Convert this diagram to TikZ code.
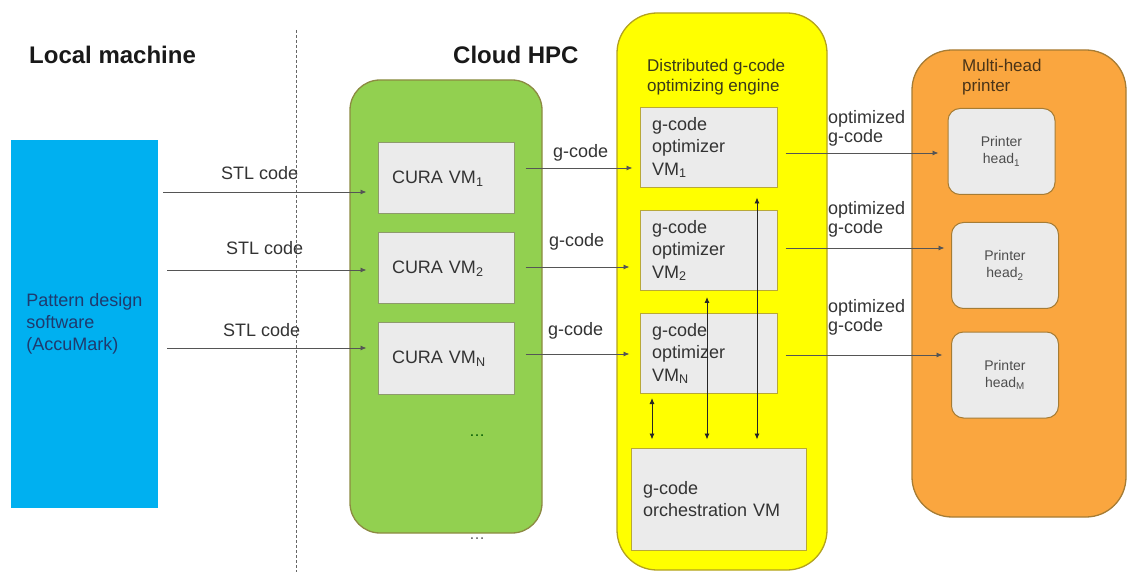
\documentclass[tikz,border=0pt]{standalone}
\usepackage{fontspec}
\setmainfont{Liberation Sans}
\usetikzlibrary{arrows.meta}

\definecolor{softblue}{HTML}{00B0F0}
\definecolor{navytext}{HTML}{1F3A6E}
\definecolor{cloudgreen}{HTML}{92D050}
\definecolor{cloudedge}{HTML}{8C8A42}
\definecolor{engineyellow}{HTML}{FFFF00}
\definecolor{engineedge}{HTML}{B3A21E}
\definecolor{printerorange}{HTML}{FAA63F}
\definecolor{printeredge}{HTML}{A67C34}
\definecolor{vmgray}{HTML}{EBEBEB}
\definecolor{curaedge}{HTML}{8E9A6C}
\definecolor{optedge}{HTML}{B8A838}
\definecolor{inktext}{HTML}{333333}
\definecolor{wire}{HTML}{555555}
\definecolor{headtext}{HTML}{4D4D4D}
\definecolor{printertitle}{HTML}{4A3418}
\definecolor{enginetitlecol}{HTML}{3A3A1A}

\begin{document}
\begin{tikzpicture}[x=1pt,y=-1pt,
  every node/.style={inner sep=0pt, text=inktext},
  txt/.style={font=\fontsize{18}{22.5}\selectfont},
  title/.style={font=\bfseries\fontsize{24}{28}\selectfont, text=black!90, anchor=west},
  lbl/.style={txt, anchor=west},
  twolbl/.style={font=\fontsize{18}{19}\selectfont, anchor=west, align=left},
  cloudgroup/.style={draw=cloudedge, fill=cloudgreen, line width=1.3pt, rounded corners=30pt},
  enginegroup/.style={draw=engineedge, fill=engineyellow, line width=1.3pt, rounded corners=40pt},
  printergroup/.style={draw=printeredge, fill=printerorange, line width=1.3pt, rounded corners=40pt},
  curabox/.style={draw=curaedge, fill=vmgray, line width=1pt, txt, align=left,
    text width=108pt, inner xsep=14pt, minimum height=71pt},
  optbox/.style={draw=optedge, fill=vmgray, line width=1pt, txt, align=left,
    text width=113pt, inner xsep=12pt, minimum height=80pt},
  headbox/.style={draw=printeredge, fill=vmgray, line width=1pt, rounded corners=12pt,
    minimum width=107pt, minimum height=86pt, align=center,
    font=\fontsize{14}{17}\selectfont, text=headtext},
  arr/.style={draw=wire, line width=0.9pt, -{Latex[length=6pt,width=5pt]}},
  biarr/.style={draw=black!85, line width=0.9pt,
    {Latex[length=6pt,width=5pt]}-{Latex[length=6pt,width=5pt]}},
  divider/.style={draw=black!60, line width=0.9pt, dash pattern=on 3pt off 2pt}
]
\useasboundingbox (0,0) rectangle (1128,572);

% section titles and the local / cloud divider
\node[title] (localtitle) at (29,55) {Local machine};
\node[title] (cloudtitle) at (453,55) {Cloud HPC};
\coordinate (divtop) at (296,30);
\coordinate (divbot) at (296,572);
\draw[divider] (divtop) -- (divbot);

% pattern design software on the local machine
\node[fill=softblue, minimum width=147pt, minimum height=368pt, align=left,
  font=\fontsize{18}{22}\selectfont, text=navytext] (soft) at (84.5,324)
  {Pattern design\\software\\(AccuMark)};

% group containers
\node[cloudgroup, minimum width=192pt, minimum height=453pt] (cloud) at (446,306.5) {};
\node[enginegroup, minimum width=210pt, minimum height=557pt] (engine) at (722,291.5) {};
\node[printergroup, minimum width=214pt, minimum height=467pt] (printer) at (1019,283.5) {};

% slicing VMs
\node[curabox] (cura1) at (446,178.5) {CURA VM\textsubscript{1}};
\node[curabox] (cura2) at (446,268.5) {CURA VM\textsubscript{2}};
\node[curabox] (curaN) at (446,358.5) {CURA VM\textsubscript{N}};
\node[font=\fontsize{16}{16}\selectfont, text=green!35!black] (dotsin) at (477,436) {\ldots};
\node[font=\fontsize{16}{16}\selectfont, text=black!65] (dotsout) at (477,539) {\ldots};

% optimizing engine
\node[font=\fontsize{17}{20}\selectfont, text=enginetitlecol, anchor=west, align=left]
  (enginetitle) at (647,77) {Distributed g-code\\optimizing engine};
\node[optbox] (opt1) at (708.5,147.5) {g-code\\optimizer\\VM\textsubscript{1}};
\node[optbox] (opt2) at (708.5,250.5) {g-code\\optimizer\\VM\textsubscript{2}};
\node[optbox] (optN) at (708.5,353.5) {g-code\\optimizer\\VM\textsubscript{N}};
\node[draw=optedge, fill=vmgray, line width=1pt, txt, align=left,
  text width=151pt, inner xsep=12pt, minimum height=102pt] (orch) at (718.5,499)
  {g-code\\orchestration VM};

% printer heads
\node[font=\fontsize{17}{20}\selectfont, text=printertitle, anchor=west, align=left]
  (printertitle) at (962,77) {Multi-head\\printer};
\node[headbox] (head1) at (1001.5,151.5) {Printer\\head\textsubscript{1}};
\node[headbox] (head2) at (1005,265.5) {Printer\\head\textsubscript{2}};
\node[headbox] (headM) at (1005,375) {Printer\\head\textsubscript{M}};

% STL code from the design software to the slicers
\coordinate (stl1) at ([shift={(-11,13.5)}]cura1.west);
\coordinate (stl2) at ([shift={(-11,1.5)}]cura2.west);
\coordinate (stl3) at ([shift={(-11,-10.5)}]curaN.west);
\draw[arr] (soft.east |- stl1) ++(5,0) -- (stl1);
\draw[arr] (soft.east |- stl2) ++(9,0) -- (stl2);
\draw[arr] (soft.east |- stl3) ++(9,0) -- (stl3);
\node[lbl] (stllbl1) at (221,173) {STL code};
\node[lbl] (stllbl2) at (226,248) {STL code};
\node[lbl] (stllbl3) at (223,330) {STL code};

% g-code from the slicers to the optimizers
\coordinate (g1) at ([shift={(-7,20.5)}]opt1.west);
\coordinate (g2) at ([shift={(-10,16.5)}]opt2.west);
\coordinate (g3) at ([shift={(-10,0.5)}]optN.west);
\draw[arr] (cura1.east |- g1) ++(11,0) -- (g1);
\draw[arr] (cura2.east |- g2) ++(11,0) -- (g2);
\draw[arr] (curaN.east |- g3) ++(11,0) -- (g3);
\node[lbl] (glbl1) at (553,153) {g-code};
\node[lbl] (glbl2) at (549,242) {g-code};
\node[lbl] (glbl3) at (548,331) {g-code};

% optimized g-code to the printer heads
\coordinate (o1) at ([shift={(-9,1.5)}]head1.west);
\coordinate (o2) at ([shift={(-6.5,-17.5)}]head2.west);
\coordinate (o3) at ([shift={(-8.5,-20)}]headM.west);
\draw[arr] (opt1.east |- o1) ++(8,0) -- (o1);
\draw[arr] (opt2.east |- o2) ++(8,0) -- (o2);
\draw[arr] (optN.east |- o3) ++(8,0) -- (o3);
\node[twolbl] (olbl1) at (828,128) {optimized\\g-code};
\node[twolbl] (olbl2) at (828,219) {optimized\\g-code};
\node[twolbl] (olbl3) at (828,317.5) {optimized\\g-code};

% orchestration links
\draw[biarr] ([shift={(-56.5,4)}]optN.south) -- ([shift={(-66.5,-8)}]orch.north);
\draw[biarr] ([shift={(-1.5,6)}]opt2.south) -- ([shift={(-11.5,-8)}]orch.north);
\draw[biarr] ([shift={(48.5,9.5)}]opt1.south) -- ([shift={(38.5,-8)}]orch.north);
\end{tikzpicture}
\end{document}
